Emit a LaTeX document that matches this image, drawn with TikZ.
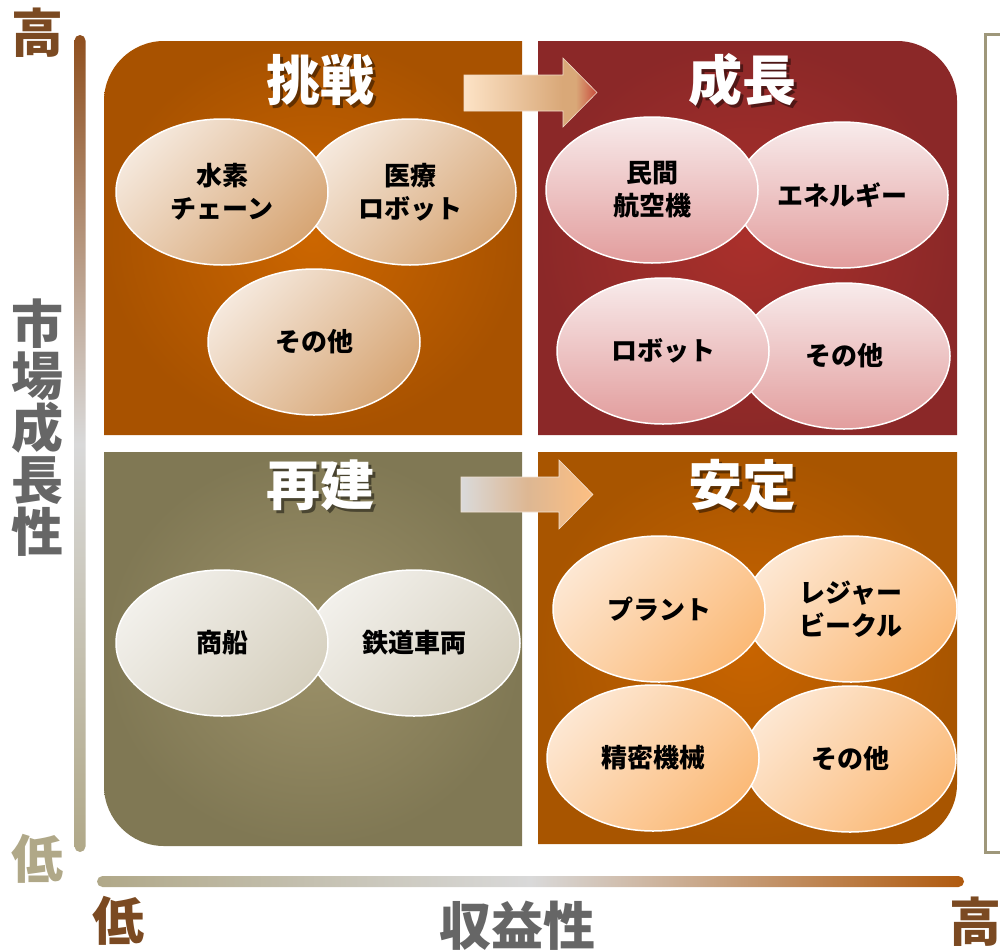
\documentclass[tikz,border=0pt]{standalone}
\usepackage{fontspec}
\newfontfamily\jpfont{Noto Sans CJK JP}
\usetikzlibrary{shapes.geometric}

% colours
\definecolor{axbrown}{HTML}{7B4A22}
\definecolor{axbeige}{HTML}{B0A888}
\definecolor{axgrey}{HTML}{666666}
\definecolor{barmid}{HTML}{D9D9D9}
\definecolor{bartop}{HTML}{8F4F1E}
\definecolor{barright}{HTML}{B05A0E}
\definecolor{arTopA}{HTML}{FDE3C6}
\definecolor{arTopB}{HTML}{D9A878}
\definecolor{arTopC}{HTML}{C84A3C}
\definecolor{arLowA}{HTML}{DADADA}
\definecolor{arLowB}{HTML}{DDB793}
\definecolor{arLowC}{HTML}{FDBF82}
\definecolor{challengeIn}{HTML}{CC6600}
\definecolor{challengeOut}{HTML}{A85200}
\definecolor{growthIn}{HTML}{AA302B}
\definecolor{growthOut}{HTML}{8B2828}
\definecolor{rebuildIn}{HTML}{9C9169}
\definecolor{rebuildOut}{HTML}{807854}
\definecolor{stableIn}{HTML}{C86400}
\definecolor{stableOut}{HTML}{A85500}
\definecolor{challengeLight}{HTML}{F5E8DC}
\definecolor{challengeDark}{HTML}{D7A675}
\definecolor{growthLight}{HTML}{F8EBEB}
\definecolor{growthDark}{HTML}{E29D9D}
\definecolor{rebuildLight}{HTML}{F2F0EB}
\definecolor{rebuildDark}{HTML}{D6D0BF}
\definecolor{stableLight}{HTML}{FDE7D2}
\definecolor{stableDark}{HTML}{FBBA78}

\pgfdeclarehorizontalshading{toparrow}{100bp}{color(0bp)=(arTopA); color(25bp)=(arTopA);
  color(62bp)=(arTopB); color(67bp)=(arTopB); color(75bp)=(arTopC); color(100bp)=(arTopC)}

\tikzset{
  quadtitle/.style={font=\jpfont\bfseries\fontsize{54}{54}\selectfont, text=white, inner sep=0pt},
  quadshadow/.style={quadtitle, text=black, opacity=0.45},
  bubble/.style={ellipse, draw=white, line width=1.5pt, minimum width=212pt, minimum height=146pt,
    inner sep=0pt, align=center, text=black, font=\jpfont\bfseries\fontsize{26}{33}\selectfont},
  challengebubble/.style={bubble, top color=challengeLight, bottom color=challengeDark, shading angle=45},
  growthbubble/.style={bubble, top color=growthLight, bottom color=growthDark},
  rebuildbubble/.style={bubble, top color=rebuildLight, bottom color=rebuildDark, shading angle=45},
  stablebubble/.style={bubble, top color=stableLight, bottom color=stableDark, shading angle=45},
  axislabel/.style={font=\jpfont\bfseries\fontsize{52}{52}\selectfont, inner sep=0pt, align=center},
}

\begin{document}
\begin{tikzpicture}[x=1pt, y=-1pt]
    \useasboundingbox (0,0) rectangle (1000,951);
    \clip (0,0) rectangle (1000,951);
    % quadrants
    \shade[inner color=challengeIn, outer color=challengeOut] (522,435) -- (104,435) -- (104,101)
        .. controls (104,68) and (131,41) .. (164,41) -- (522,41) -- cycle;
    \shade[inner color=growthIn, outer color=growthOut] (538,41) -- (897,41)
        .. controls (930,41) and (957,68) .. (957,101) -- (957,435) -- (538,435) -- cycle;
    \shade[inner color=rebuildIn, outer color=rebuildOut] (104,452) -- (522,452) -- (522,846)
        -- (164,846) .. controls (131,846) and (104,819) .. (104,786) -- cycle;
    \shade[inner color=stableIn, outer color=stableOut] (538,452) -- (957,452) -- (957,784)
        .. controls (957,817) and (930,844) .. (897,844) -- (538,844) -- cycle;
    % block arrows
    \shade[shading=toparrow, draw=white!60!arTopB, line width=0.6pt] (464,75) -- (563,75) -- (563,58) -- (597,92.5)
        -- (563,127) -- (563,111) -- (464,111) -- cycle;
    \shade[left color=arLowA, right color=arLowC, middle color=arLowB,
        draw=white!60!arLowB, line width=0.6pt] (461,477) -- (559,477) -- (559,460) -- (593,494.5)
        -- (559,529) -- (559,512) -- (461,512) -- cycle;
    % titles
    \node[quadshadow] at (323,83) {挑戦};
    \node[quadtitle] (t-challenge) at (320,80) {挑戦};
    \node[quadshadow] at (745,83) {成長};
    \node[quadtitle] (t-growth) at (742,80) {成長};
    \node[quadshadow] at (323,488) {再建};
    \node[quadtitle] (t-rebuild) at (320,485) {再建};
    \node[quadshadow] at (745,488) {安定};
    \node[quadtitle] (t-stable) at (742,485) {安定};
    % bubbles
    \node[challengebubble] (medical) at (410,192) {医療\\ロボット};
    \node[challengebubble] (hydrogen) at (222,192) {水素\\チェーン};
    \node[challengebubble] (c-other) at (314,342) {その他};
    \node[growthbubble] (energy) at (842,195) {エネルギー};
    \node[growthbubble] (aircraft) at (652,190) {民間\\航空機};
    \node[growthbubble] (g-other) at (844,356) {その他};
    \node[growthbubble] (robot) at (663,351) {ロボット};
    \node[rebuildbubble] (railway) at (414,643) {鉄道車両};
    \node[rebuildbubble] (ship) at (222,643) {商船};
    \node[stablebubble] (leisure) at (851,609) {レジャー\\ビークル};
    \node[stablebubble] (plant) at (659,609) {プラント};
    \node[stablebubble] (s-other) at (850,759) {その他};
    \node[stablebubble] (precision) at (653,758) {精密機械};
    % axes
    \shade[rounded corners=5.5pt, top color=bartop, bottom color=axbeige, middle color=barmid]
        (74.5,35) rectangle (85.5,852);
    \shade[rounded corners=5.5pt, left color=axbeige, right color=barright, middle color=barmid]
        (97,876) rectangle (964,887);
    \draw[axbeige!90!black, line width=3pt] (1005,34) -- (985,34) -- (985,852) -- (1005,852);
    \node[axislabel, text=axbrown] (y-high) at (37,33) {高};
    \node[axislabel, text=axgrey] (y-name) at (38,428) {市\\場\\成\\長\\性};
    \node[axislabel, text=axbeige] (y-low) at (37,859) {低};
    \node[axislabel, text=axbrown] (x-low) at (118,921) {低};
    \node[axislabel, text=axgrey] (x-name) at (517,926) {収益性};
    \node[axislabel, text=axbrown] (x-high) at (975,922) {高};
\end{tikzpicture}
\end{document}
